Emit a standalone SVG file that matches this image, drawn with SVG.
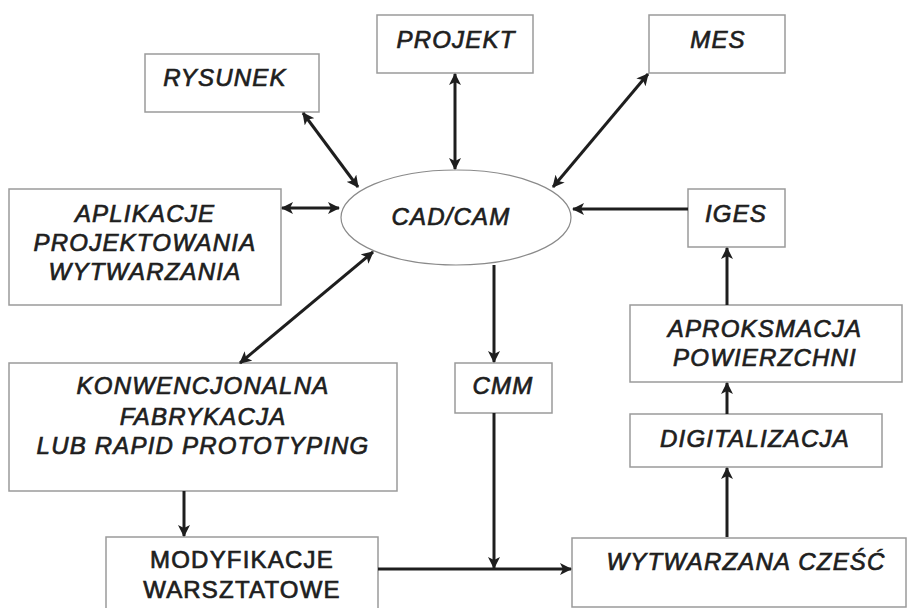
<svg xmlns="http://www.w3.org/2000/svg" width="907" height="608" viewBox="0 0 907 608">
<style>
.box{fill:#fff;stroke:#9a9a9a;stroke-width:1.5}
.t{font-family:"Liberation Sans",Arial,sans-serif;font-size:24px;font-style:italic;fill:#1e1e1e;text-anchor:middle;letter-spacing:1.2px;stroke:#1e1e1e;stroke-width:0.7}
.n{font-style:normal}
.c{fill:none;stroke:#1e1e1e;stroke-width:3}
</style>
<defs>
<marker id="ah" viewBox="0 0 12 12" refX="11" refY="6" markerWidth="12" markerHeight="12" markerUnits="userSpaceOnUse" orient="auto-start-reverse">
<path d="M0,0 L12,6 L0,12 L3,6 Z" fill="#1e1e1e"/>
</marker>
</defs>
<rect width="907" height="608" fill="#fff"/>
<g id="rysunek"><rect class="box" x="145" y="54" width="174" height="58"/><text class="t" x="225" y="86">RYSUNEK</text></g>
<g id="projekt"><rect class="box" x="377" y="15" width="156" height="58"/><text class="t" x="456" y="48">PROJEKT</text></g>
<g id="mes"><rect class="box" x="649" y="15" width="136" height="58"/><text class="t" x="718" y="48">MES</text></g>
<g id="cadcam"><ellipse cx="456" cy="217.5" rx="115" ry="47.5" fill="#fff" stroke="#8a8a8a" stroke-width="1.2"/><text class="t" x="451" y="225">CAD/CAM</text></g>
<g id="aplikacje"><rect class="box" x="9" y="189" width="272" height="116"/><text class="t" x="145" y="222">APLIKACJE</text><text class="t" x="145" y="251">PROJEKTOWANIA</text><text class="t" x="145" y="280">WYTWARZANIA</text></g>
<g id="iges"><rect class="box" x="688" y="189" width="97" height="58"/><text class="t" x="736" y="222">IGES</text></g>
<g id="aproksmacja"><rect class="box" x="630" y="305" width="272" height="77"/><text class="t" x="765" y="337">APROKSMACJA</text><text class="t" x="765" y="366">POWIERZCHNI</text></g>
<g id="konwencjonalna"><rect class="box" x="9" y="363" width="388" height="128"/><text class="t" x="203" y="394">KONWENCJONALNA</text><text class="t" x="203" y="425">FABRYKACJA</text><text class="t" x="203" y="454">LUB RAPID PROTOTYPING</text></g>
<g id="cmm"><rect class="box" x="455" y="363" width="97" height="50"/><text class="t" x="503" y="394">CMM</text></g>
<g id="digitalizacja"><rect class="box" x="630" y="414" width="252" height="53"/><text class="t" x="755" y="447">DIGITALIZACJA</text></g>
<g id="modyfikacje"><rect class="box" x="106" y="537" width="272" height="75"/><text class="t n" x="242" y="568">MODYFIKACJE</text><text class="t n" x="242" y="598">WARSZTATOWE</text></g>
<g id="wytwarzana"><rect class="box" x="572" y="538" width="334" height="69"/><text class="t" x="746" y="570">WYTWARZANA CZEŚĆ</text></g>
<g id="connectors">
<line class="c" x1="303" y1="113" x2="358" y2="187" marker-start="url(#ah)" marker-end="url(#ah)"/>
<line class="c" x1="455" y1="74" x2="455" y2="169" marker-start="url(#ah)" marker-end="url(#ah)"/>
<line class="c" x1="648" y1="74" x2="553" y2="187" marker-start="url(#ah)" marker-end="url(#ah)"/>
<line class="c" x1="282" y1="208" x2="339" y2="208" marker-start="url(#ah)" marker-end="url(#ah)"/>
<line class="c" x1="240" y1="363" x2="373" y2="252" marker-start="url(#ah)" marker-end="url(#ah)"/>
<line class="c" x1="688" y1="209" x2="573" y2="209" marker-end="url(#ah)"/>
<line class="c" x1="494" y1="265" x2="494" y2="362" marker-end="url(#ah)"/>
<line class="c" x1="184" y1="491" x2="184" y2="536" marker-end="url(#ah)"/>
<line class="c" x1="378" y1="569" x2="571" y2="569" marker-end="url(#ah)"/>
<line class="c" x1="494" y1="413" x2="494" y2="568" marker-end="url(#ah)"/>
<line class="c" x1="727" y1="537" x2="727" y2="468" marker-end="url(#ah)"/>
<line class="c" x1="727" y1="414" x2="727" y2="383" marker-end="url(#ah)"/>
<line class="c" x1="727" y1="305" x2="727" y2="248" marker-end="url(#ah)"/>
</g>
</svg>
